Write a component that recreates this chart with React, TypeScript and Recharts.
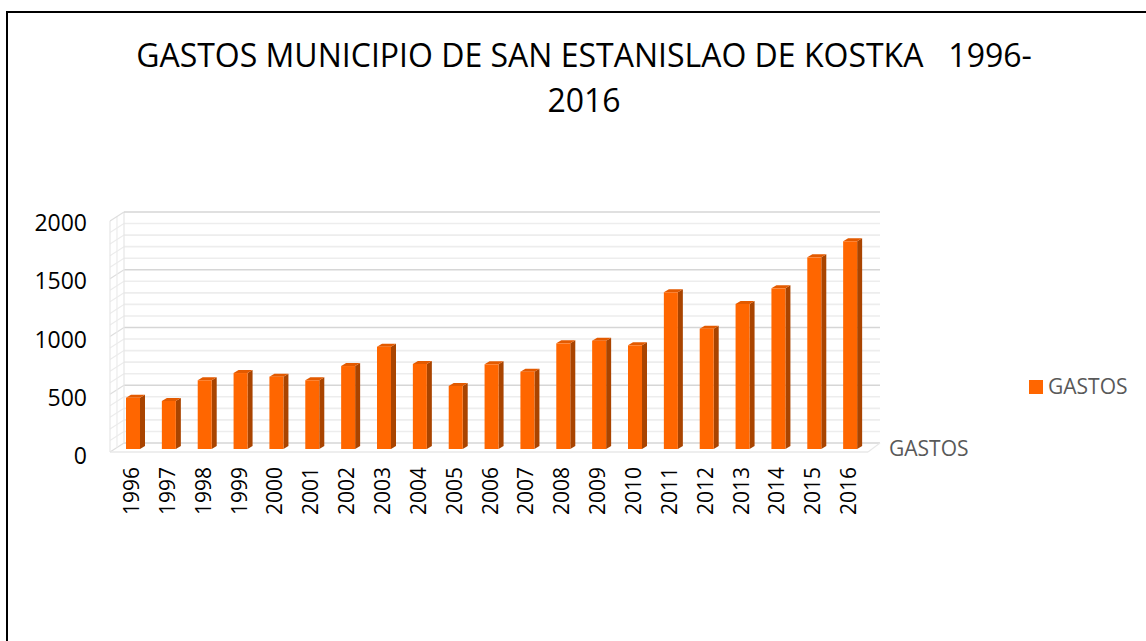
import React from 'react';
import { BarChart, Bar, XAxis, YAxis, CartesianGrid } from 'recharts';

const YEARS = ['1996','1997','1998','1999','2000','2001','2002','2003','2004','2005','2006','2007','2008','2009','2010','2011','2012','2013','2014','2015','2016'];
const GASTOS = [440, 412, 590, 652, 621, 590, 712, 878, 730, 541, 727, 664, 907, 930, 890, 1345, 1033, 1245, 1379, 1645, 1783];
const Y_TICKS = [0,100,200,300,400,500,600,700,800,900,1000,1100,1200,1300,1400,1500,1600,1700,1800,1900,2000];
const Y_LABEL_STEP = 500;
const SERIES_NAME = 'GASTOS';
const TITLE_LINE1 = 'GASTOS MUNICIPIO DE SAN ESTANISLAO DE KOSTKA   1996-';
const TITLE_LINE2 = '2016';

const data = YEARS.map((y, i) => ({ year: y, GASTOS: GASTOS[i] }));

const FONT = '"Open Sans", sans-serif';
const W = 1146;
const H = 641;
const PLOT_TOP = 216;
const PLOT_BOTTOM = 449;
const PLOT_LEFT = 115;
const PLOT_RIGHT = 868;
const BACK_LEFT = 124;
const BACK_RIGHT = 880;
const WALL_FRONT_X = 110;
const DEPTH_DY = 9;
const ORANGE = '#FF6600';
const SIDE = '#A94400';
const TOP = '#E35A00';

const backY = (y: number) => 443 - (PLOT_BOTTOM - y) * (231 / 233);

const GridLine = (props: any) => {
  const { y1 } = props;
  const value = Math.round(((PLOT_BOTTOM - y1) / (PLOT_BOTTOM - PLOT_TOP)) * 2000 / 100) * 100;
  const major = value % 500 === 0;
  const yb = backY(y1);
  const stroke = major ? '#d6d6d6' : '#ededed';
  const isTop = value === 2000;
  const isZero = value === 0;
  return (
    <g key={props.key}>
      {isTop && (
        <g>
          <line x1={WALL_FRONT_X} y1={yb + DEPTH_DY} x2={WALL_FRONT_X} y2={443 + DEPTH_DY} stroke="#e6e6e6" strokeWidth={1.2} />
          <line x1={117} y1={yb + DEPTH_DY / 2} x2={117} y2={443 + DEPTH_DY / 2} stroke="#ececec" strokeWidth={1.2} />
          <line x1={BACK_LEFT} y1={yb} x2={BACK_LEFT} y2={443} stroke="#e6e6e6" strokeWidth={1.2} />
        </g>
      )}
      <line x1={BACK_LEFT} y1={yb} x2={BACK_RIGHT} y2={yb} stroke={stroke} strokeWidth={1.6} />
      <line x1={WALL_FRONT_X} y1={yb + DEPTH_DY} x2={BACK_LEFT} y2={yb} stroke={major ? '#dedede' : '#ececec'} strokeWidth={1.2} />
      {isZero && (
        <g>
          <line x1={WALL_FRONT_X} y1={yb + DEPTH_DY} x2={PLOT_RIGHT} y2={yb + DEPTH_DY} stroke="#e8e8e8" strokeWidth={1.4} />
          <line x1={PLOT_RIGHT} y1={yb + DEPTH_DY} x2={BACK_RIGHT} y2={yb} stroke="#e8e8e8" strokeWidth={1.2} />
        </g>
      )}
    </g>
  );
};

const Bar3D = (props: any) => {
  const { x, y, width, height } = props;
  if (height == null || height <= 0) return null;
  const dx = 5;
  const dy = 3;
  return (
    <g>
      <polygon points={`${x + width},${y} ${x + width + dx},${y - dy} ${x + width + dx},${y + height - dy} ${x + width},${y + height}`} fill={SIDE} />
      <polygon points={`${x},${y} ${x + dx},${y - dy} ${x + width + dx},${y - dy} ${x + width},${y}`} fill={TOP} />
      <rect x={x} y={y} width={width} height={height} fill={ORANGE} />
    </g>
  );
};

const YTick = (props: any) => {
  const { x, y, payload } = props;
  if (payload.value % Y_LABEL_STEP !== 0) return <g />;
  return (
    <text x={x} y={y + 15} textAnchor="end" fontFamily={FONT} fontSize={23} fill="#000">
      {payload.value}
    </text>
  );
};

const XTick = (props: any) => {
  const { x, payload } = props;
  return (
    <text transform={`translate(${x + 6},467) rotate(-90)`} textAnchor="end" fontFamily={FONT} fontSize={21} fill="#000">
      {payload.value}
    </text>
  );
};

export default function App() {
  return (
    <div style={{ position: 'absolute', left: 0, top: 0, width: W, height: H, overflow: 'hidden', background: '#fff' }}>
      <div style={{ position: 'absolute', left: 6, top: 11, width: 1300, height: 800, borderLeft: '2px solid #000', borderTop: '2px solid #000' }} />
      <div style={{ position: 'absolute', left: 0, top: 0 }}>
        <BarChart
          width={W}
          height={H}
          data={data}
          margin={{ top: PLOT_TOP, right: W - PLOT_RIGHT, bottom: H - PLOT_BOTTOM - 30, left: 15 }}
          barSize={14}
        >
          <CartesianGrid vertical={false} horizontal={GridLine} />
          <XAxis dataKey="year" axisLine={false} tickLine={false} interval={0} height={30} tick={XTick} />
          <YAxis
            domain={[0, 2000]}
            ticks={Y_TICKS}
            interval={0}
            axisLine={false}
            tickLine={false}
            tickSize={0}
            tickMargin={28}
            width={PLOT_LEFT - 15}
            tick={YTick}
          />
          <Bar dataKey="GASTOS" name={SERIES_NAME} isAnimationActive={false} shape={Bar3D} />
        </BarChart>
      </div>
      <svg width={W} height={H} style={{ position: 'absolute', left: 0, top: 0, pointerEvents: 'none' }}>
        <text x={584} y={67} textAnchor="middle" fontFamily={FONT} fontSize={32} fill="#000" style={{ whiteSpace: 'pre' }}>
          {TITLE_LINE1}
        </text>
        <text x={584} y={112} textAnchor="middle" fontFamily={FONT} fontSize={32} fill="#000">
          {TITLE_LINE2}
        </text>
        <rect x={1029} y={380} width={14} height={14} fill={ORANGE} />
        <text x={1048} y={394} fontFamily={FONT} fontSize={21} fill="#595959">{SERIES_NAME}</text>
        <text x={889} y={456} fontFamily={FONT} fontSize={21} fill="#595959">{SERIES_NAME}</text>
      </svg>
    </div>
  );
}
